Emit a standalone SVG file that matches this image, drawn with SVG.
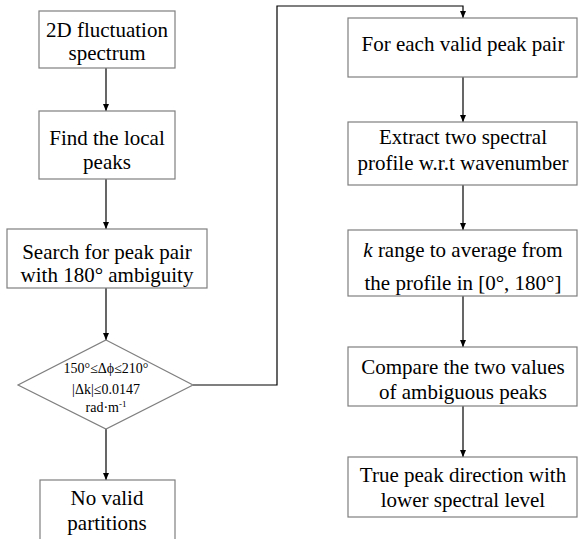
<svg xmlns="http://www.w3.org/2000/svg" width="578" height="539" viewBox="0 0 578 539">
<style>
.box{fill:#fff;stroke:#7f7f7f;stroke-width:1.2}
.t{font-family:"Liberation Serif","Times New Roman",serif;font-size:21px;fill:#000;text-anchor:middle}
.s{font-family:"Liberation Serif","Times New Roman",serif;font-size:14px;fill:#000;text-anchor:middle}
.c{fill:none;stroke:#000;stroke-width:1.2}
</style>
<defs>
<marker id="ah" markerWidth="8" markerHeight="8" refX="7" refY="4" orient="auto" markerUnits="userSpaceOnUse">
<path d="M0,1 L7,4 L0,7 Z" fill="#000"/>
</marker>
</defs>
<rect width="578" height="539" fill="#fff"/>
<g id="connectors">
<line class="c" x1="106" y1="68" x2="106" y2="111" marker-end="url(#ah)"/>
<line class="c" x1="106" y1="179" x2="106" y2="229" marker-end="url(#ah)"/>
<line class="c" x1="106" y1="288" x2="106" y2="340" marker-end="url(#ah)"/>
<line class="c" x1="106" y1="429" x2="106" y2="480" marker-end="url(#ah)"/>
<polyline class="c" points="193,385 277,385 277,6 463,6 463,18" marker-end="url(#ah)"/>
<line class="c" x1="463" y1="77" x2="463" y2="122" marker-end="url(#ah)"/>
<line class="c" x1="463" y1="185" x2="463" y2="230" marker-end="url(#ah)"/>
<line class="c" x1="463" y1="296" x2="463" y2="347" marker-end="url(#ah)"/>
<line class="c" x1="463" y1="406" x2="463" y2="457" marker-end="url(#ah)"/>
</g>
<g id="n1"><rect class="box" x="39" y="11" width="136" height="57"/>
<text class="t" x="107" y="37">2D fluctuation</text><text class="t" x="107" y="60">spectrum</text></g>
<g id="n2"><rect class="box" x="39" y="111" width="136" height="68"/>
<text class="t" x="107" y="145">Find the local</text><text class="t" x="107" y="169">peaks</text></g>
<g id="n3"><rect class="box" x="7" y="229" width="200" height="59"/>
<text class="t" x="107" y="259">Search for peak pair</text><text class="t" x="107" y="282">with 180° ambiguity</text></g>
<g id="n4"><polygon class="box" points="106,340 193,385 106,429 18,385"/>
<text class="s" x="106" y="373">150°≤Δϕ≤210°</text>
<text class="s" x="106" y="394">|Δk|≤0.0147</text>
<text class="s" x="106" y="412">rad·m<tspan font-size="9" dy="-5">-1</tspan></text></g>
<g id="n5"><rect class="box" x="40" y="480" width="135" height="70"/>
<text class="t" x="107" y="505">No valid</text><text class="t" x="107" y="530">partitions</text></g>
<g id="n6"><rect class="box" x="348" y="18" width="229" height="59"/>
<text class="t" x="463" y="51">For each valid peak pair</text></g>
<g id="n7"><rect class="box" x="348" y="122" width="229" height="63"/>
<text class="t" x="463" y="144">Extract two spectral</text><text class="t" x="463" y="170">profile w.r.t wavenumber</text></g>
<g id="n8"><rect class="box" x="348" y="230" width="229" height="66"/>
<text class="t" x="463" y="257"><tspan font-style="italic">k</tspan> range to average from</text><text class="t" x="463" y="290">the profile in [0°, 180°]</text></g>
<g id="n9"><rect class="box" x="348" y="347" width="229" height="59"/>
<text class="t" x="463" y="374">Compare the two values</text><text class="t" x="463" y="399">of ambiguous peaks</text></g>
<g id="n10"><rect class="box" x="348" y="457" width="229" height="60"/>
<text class="t" x="463" y="482">True peak direction with</text><text class="t" x="463" y="507">lower spectral level</text></g>
</svg>
